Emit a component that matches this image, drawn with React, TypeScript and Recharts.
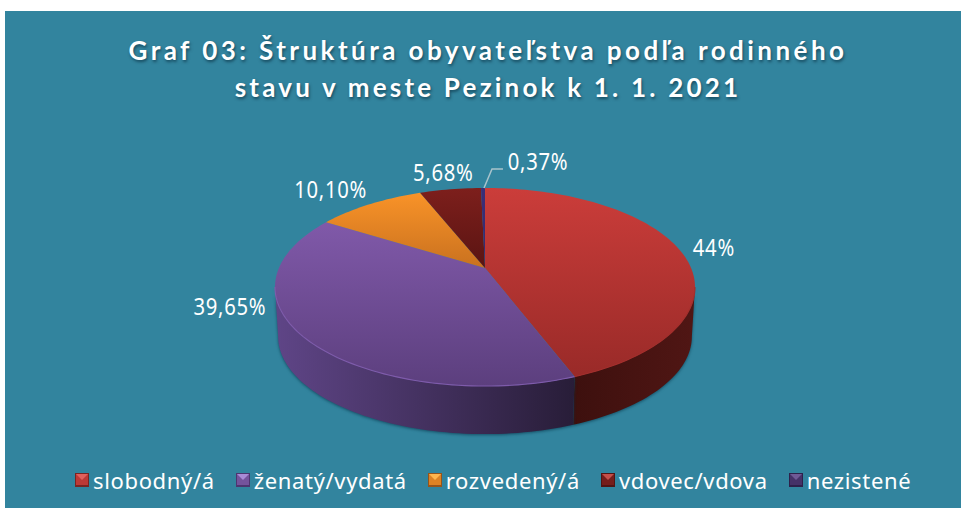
import React from 'react';
import { PieChart, Pie, Legend } from 'recharts';

const categories = ['slobodný/á', 'ženatý/vydatá', 'rozvedený/á', 'vdovec/vdova', 'nezistené'];
const values = [44.2, 39.65, 10.1, 5.68, 0.37];
const valueLabels = ['44%', '39,65%', '10,10%', '5,68%', '0,37%'];
const gradientIds = ['topRed', 'topPurple', 'topOrange', 'topDark', 'topNavy'];
const sideIds = ['sideRed', 'sidePurple', 'sideOrange', 'sideDark', 'sideNavy'];
const rimColors = ['#a52e2b', '#7f5bab', '#d98024', '#6e1b19', '#3b2e78'];
const iconShades = [
  ['#e2605c', '#bd3936', '#7a2422'],
  ['#a98bd6', '#74539c', '#4d3570'],
  ['#ffb54d', '#dd8224', '#96541a'],
  ['#c44f4a', '#751d1b', '#521413'],
  ['#6f5a96', '#453268', '#2e214b'],
];
const labelOffsets = [[33, -4], [-74, -31], [-39, -15], [-7, -17], [55, -27]];

const TEAL = '#32849e';
const K = -0.192;
const SCALE_X = 2.061;
const SCALE_Y = 0.954;
const BOTTOM_SCALE = 0.985;
const DEPTH = 49.8;
const FRONT_FROM = -11;
const FRONT_TO = -169;

const data = categories.map((name, i) => ({ name, value: values[i], fill: gradientIds[i], sideFill: sideIds[i], rim: rimColors[i], shades: iconShades[i] }));

const project = (cx: number, cy: number, r: number, angleDeg: number, scale = 1, dy = 0) => {
  const a = (angleDeg * Math.PI) / 180;
  const x = Math.cos(a);
  const y = -Math.sin(a);
  const den = 1 + K * y;
  return [cx + (SCALE_X * r * x * scale) / den, cy + dy + (SCALE_Y * r * y * scale) / den];
};

const arcPoints = (cx: number, cy: number, r: number, from: number, to: number, scale = 1, dy = 0) => {
  const n = Math.max(2, Math.ceil(Math.abs(to - from) / 1.5));
  const pts: number[][] = [];
  for (let i = 0; i <= n; i++) pts.push(project(cx, cy, r, from + ((to - from) * i) / n, scale, dy));
  return pts;
};
const toPath = (pts: number[][]) => pts.map((p, i) => `${i ? 'L' : 'M'}${p[0].toFixed(2)} ${p[1].toFixed(2)}`).join(' ');

const TopShape = (props: any) => {
  const { cx, cy, outerRadius, startAngle, endAngle, fill, rim } = props;
  const pts = arcPoints(cx, cy, outerRadius, startAngle, endAngle);
  const hi = Math.min(startAngle, FRONT_FROM);
  const lo = Math.max(endAngle, FRONT_TO);
  return (
    <g>
      <path d={`M${cx} ${cy} ${toPath(pts).replace('M', 'L')} Z`} fill={`url(#${fill})`} />
      {hi > lo && <path d={toPath(arcPoints(cx, cy, outerRadius, hi, lo))} fill="none" stroke={rim} strokeWidth={1.1} />}
    </g>
  );
};

const SideShape = (props: any) => {
  const { cx, cy, outerRadius, startAngle, endAngle, sideFill } = props;
  const hi = Math.min(startAngle, FRONT_FROM);
  const lo = Math.max(endAngle, FRONT_TO);
  if (hi <= lo) return null;
  const upper = arcPoints(cx, cy, outerRadius, hi, lo);
  const lower = arcPoints(cx, cy, outerRadius, lo, hi, BOTTOM_SCALE, DEPTH);
  return <path d={`${toPath(upper)} ${toPath(lower).replace('M', 'L')} Z`} fill={`url(#${sideFill})`} style={{ filter: 'drop-shadow(0px 1px 1.5px rgba(5,50,70,0.65))' }} />;
};

const renderLabel = (props: any) => {
  const { cx, cy, outerRadius, midAngle, index } = props;
  const [rx, ry] = project(cx, cy, outerRadius, midAngle);
  const [dx, dy] = labelOffsets[index];
  const tx = rx + dx;
  const ty = ry + dy;
  return (
    <g>
      {index === 4 && <polyline points={`${rx + 1},${ry} ${rx + 9},${ry - 19} ${rx + 20},${ry - 19}`} fill="none" stroke="#a9c3cc" strokeWidth={1.5} />}
      <text x={0} y={0} transform={`translate(${tx} ${ty}) scale(0.88 1)`} textAnchor="middle" dominantBaseline="central" fill="#ffffff" fontFamily="'Noto Sans'" fontSize={23} letterSpacing={0.8}>
        {valueLabels[index]}
      </text>
    </g>
  );
};

const LegendIcon = ({ shades }: { shades: string[] }) => (
  <svg width={14} height={14} style={{ flex: 'none', marginRight: 4 }}>
    <rect width={14} height={14} fill={shades[1]} />
    <polygon points="1,1 13,1 7,7" fill={shades[0]} />
    <polygon points="0,14 14,14 14,12 0,12" fill={shades[2]} />
    <rect x={0.5} y={0.5} width={13} height={13} fill="none" stroke={shades[2]} strokeWidth={1} />
  </svg>
);

const renderLegend = (props: any) => {
  const items = categories.map((name) => (props.payload || []).find((p: any) => p.value === name)).filter(Boolean);
  return (
    <div style={{ display: 'flex', alignItems: 'center', paddingLeft: 75, gap: 21, fontFamily: "'Noto Sans'", fontSize: 22, letterSpacing: 0.65, color: '#fff', whiteSpace: 'nowrap', lineHeight: '30px' }}>
      {items.map((p: any) => (
        <div key={p.value} style={{ display: 'flex', alignItems: 'center' }}>
          <LegendIcon shades={p.payload.shades} />
          <span>{p.value}</span>
        </div>
      ))}
    </div>
  );
};

const Grad = ({ id, top, bottom, horizontal }: { id: string; top: string; bottom: string; horizontal?: boolean }) => (
  <linearGradient id={id} x1="0" y1="0" x2={horizontal ? '1' : '0'} y2={horizontal ? '0' : '1'}>
    <stop offset="0" stopColor={top} />
    <stop offset="1" stopColor={bottom} />
  </linearGradient>
);

export default function App() {
  return (
    <div style={{ position: 'absolute', left: 0, top: 0, width: 961, height: 508, background: '#fff', overflow: 'hidden' }}>
      <div style={{ position: 'absolute', left: 5, top: 11, right: 0, bottom: 0, background: TEAL }} />
      <div style={{ position: 'absolute', left: 0, top: 32, width: 976, textAlign: 'center', color: '#fff', fontFamily: 'Lato', fontWeight: 700, fontSize: 26, letterSpacing: 3.45, lineHeight: '37px', textShadow: '1px 2px 3px rgba(0,30,45,0.55)' }}>
        Graf 03: Štruktúra obyvateľstva podľa rodinného
        <br />
        <span style={{ letterSpacing: 3.2 }}>stavu v meste Pezinok k 1. 1. 2021</span>
      </div>
      <div style={{ position: 'absolute', left: 0, top: 0 }}>
        <PieChart width={961} height={508} margin={{ top: 0, right: 0, bottom: 0, left: 0 }}>
          <defs>
            <Grad id="topRed" top="#cb3d3a" bottom="#992a28" />
            <Grad id="topPurple" top="#8059a9" bottom="#5c3f7e" />
            <Grad id="topOrange" top="#f99328" bottom="#c9711f" />
            <Grad id="topDark" top="#7d1f1c" bottom="#5a1412" />
            <Grad id="topNavy" top="#3b2e78" bottom="#352a6c" />
            <Grad id="sideRed" top="#3d100e" bottom="#501614" horizontal />
            <Grad id="sidePurple" top="#5f4587" bottom="#281d38" horizontal />
            <Grad id="sideOrange" top="#8a4c14" bottom="#8a4c14" horizontal />
            <Grad id="sideDark" top="#4a1110" bottom="#4a1110" horizontal />
            <Grad id="sideNavy" top="#2a1d44" bottom="#2a1d44" horizontal />
          </defs>
          <Pie data={data} dataKey="value" nameKey="name" cx={485} cy={268} outerRadius={100} startAngle={90} endAngle={-270} legendType="none" isAnimationActive={false} shape={SideShape} stroke="none" />
          <Pie data={data} dataKey="value" nameKey="name" cx={485} cy={268} outerRadius={100} startAngle={90} endAngle={-270} isAnimationActive={false} shape={TopShape} label={renderLabel} labelLine={false} stroke="none" />
          <Legend content={renderLegend} itemSorter={null} wrapperStyle={{ left: 0, top: 465, width: 961, bottom: 'auto' }} />
        </PieChart>
      </div>
    </div>
  );
}
